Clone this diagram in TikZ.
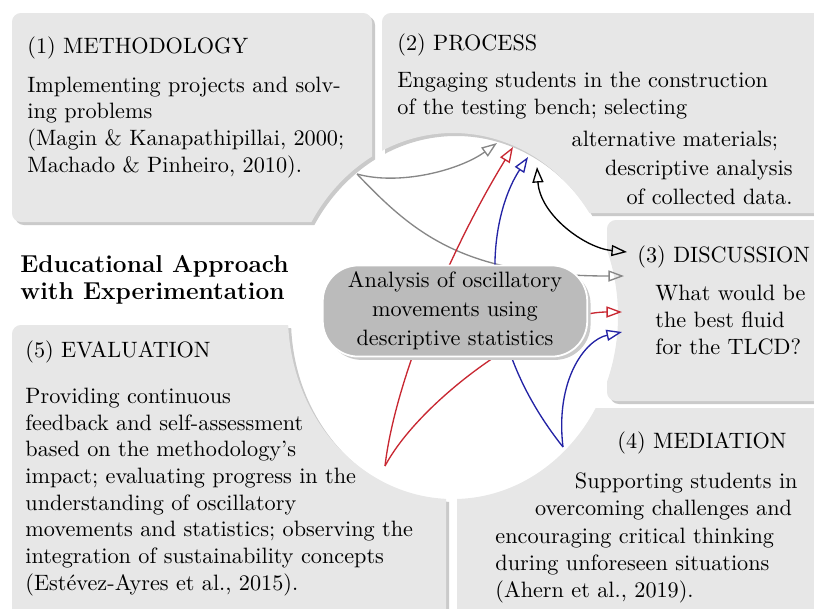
\documentclass[tikz,border=0pt]{standalone}
\usepackage{fontspec}
\usetikzlibrary{arrows.meta,shadows}

\definecolor{boxgray}{RGB}{231,231,231}
\definecolor{shadegray}{RGB}{202,202,202}
\definecolor{hubgray}{RGB}{187,187,187}
\definecolor{linkred}{RGB}{200,40,50}
\definecolor{linkblue}{RGB}{35,35,165}
\definecolor{linkgray}{RGB}{135,135,135}

\tikzset{
  >={Triangle[open,length=7pt,width=5pt]},
  panel/.style={rounded corners=4pt},
  link/.style={line width=0.6pt, ->},
  hub/.style={fill=hubgray, draw=white, line width=0.8pt, rounded corners=16pt,
    minimum width=119pt, minimum height=41pt, align=center, inner sep=2pt,
    drop shadow={shadow xshift=1.5pt, shadow yshift=-1.5pt, fill=shadegray, opacity=1}},
  head/.style={anchor=base west, inner sep=0pt},
  body/.style={anchor=base west, inner sep=0pt, align=left},
}

\begin{document}
\begin{tikzpicture}[x=0.45pt, y=-0.45pt]
  \useasboundingbox (0,0) rectangle (814,608);
  % Panel shadows
  \begin{scope}[even odd rule]
    \clip (-30,-30) rectangle (850,650) (456,319) ellipse [x radius=165, y radius=183];
    \foreach \xa/\ya/\xb/\yb in {12/13/372/222, 382/13/840/213, 607/220/840/401, 457/408/840/640, 12/325/446/640}
      \fill[shadegray, panel] (\xa+3,\ya+3) rectangle (\xb+3,\yb+3);
  \end{scope}
  % Panels
  \begin{scope}[even odd rule]
    \clip (-30,-30) rectangle (850,650) (453,316) ellipse [x radius=165, y radius=183];
    \foreach \xa/\ya/\xb/\yb in {12/13/372/222, 382/13/840/213, 607/220/840/401, 457/408/840/640, 12/325/446/640}
      \fill[boxgray, panel] (\xa,\ya) rectangle (\xb,\yb);
  \end{scope}

  % Connector ends
  \coordinate (meth) at (357,174);
  \coordinate (eval) at (385,466);
  \coordinate (medi) at (563,447);
  \coordinate (proc a) at (497,143);
  \coordinate (proc b) at (513,147);
  \coordinate (proc c) at (528,157);
  \coordinate (proc d) at (537,167);
  \coordinate (disc a) at (627,252);
  \coordinate (disc b) at (624,276);
  \coordinate (disc c) at (622,312);
  \coordinate (disc d) at (622,332);

  % Connectors
  \draw[link, linkgray] (meth) .. controls (400,186) and (460,170) .. (proc a);
  \draw[link, linkgray] (meth) .. controls (415,235) and (465,276) .. (disc b);
  \draw[link, linkred] (eval) .. controls (395,380) and (450,250) .. (proc b);
  \draw[link, linkred] (eval) .. controls (420,400) and (540,312) .. (disc c);
  \draw[link, linkblue] (medi) .. controls (470,330) and (490,215) .. (proc c);
  \draw[link, linkblue] (medi) .. controls (555,380) and (585,340) .. (disc d);
  \draw[line width=0.6pt, <->] (proc d) .. controls (540,215) and (585,248) .. (disc a);

  % Centre
  \node[hub] (hub) at (455,311) {Analysis of oscillatory\\[1pt]movements using\\[1pt]descriptive statistics};

  % Title (base = last line)
  \node[body, font=\fontsize{11}{12}\selectfont\bfseries] (topic) at (20,299) {Educational Approach\\with Experimentation};

  % (1)
  \node[head] (meth title) at (27,53) {(1) METHODOLOGY};
  \node[body] (meth text) at (27,172) {Implementing projects and solv-\\ing problems\\(Magin \& Kanapathipillai, 2000;\\Machado \& Pinheiro, 2010).};

  % (2)
  \node[head] (proc title) at (397,50) {(2) PROCESS};
  \node[body] (proc text) at (397,114) {Engaging students in the construction\\of the testing bench; selecting};
  \node[anchor=base east, inner sep=0pt, align=right] (proc more) at (793,204) {alternative materials;\hspace*{6.5pt}\\[1pt]descriptive analysis\hspace*{1.5pt}\\[1pt]of collected data.};

  % (3)
  \node[head] (disc title) at (637,262) {(3) DISCUSSION};
  \node[body] (disc text) at (655,354) {What would be\\the best fluid\\for the TLCD?};

  % (4)
  \node[anchor=base east, inner sep=0pt] (medi title) at (787,448) {(4) MEDIATION};
  \node[anchor=base east, inner sep=0pt, align=right] (medi text) at (798,515) {Supporting students in\\overcoming challenges and\hspace*{2.5pt}};
  \node[body] (medi more) at (495,597) {encouraging critical thinking\\during unforeseen situations\\(Ahern et al., 2019).};

  % (5)
  \node[head] (eval title) at (25,357) {(5) EVALUATION};
  \node[body] (eval text) at (25,590) {Providing continuous\\feedback and self-assessment\\based on the methodology's\\impact; evaluating progress in the\\understanding of oscillatory\\movements and statistics; observing the\\integration of sustainability concepts\\(Estévez-Ayres et al., 2015).};
\end{tikzpicture}
\end{document}
